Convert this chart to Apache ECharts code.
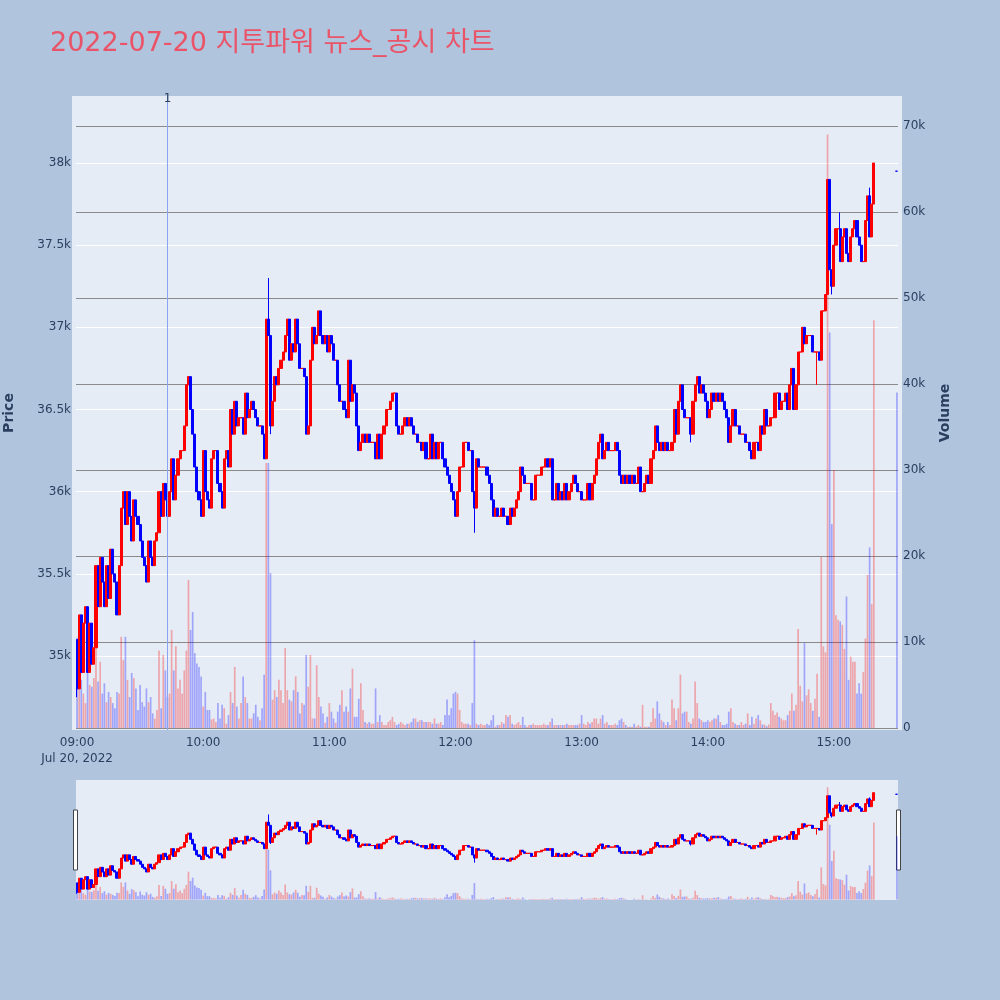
<!DOCTYPE html>
<html>
<head>
<meta charset="utf-8">
<title>2022-07-20 지투파워 뉴스_공시 차트</title>
<script src="https://cdn.jsdelivr.net/npm/echarts@6/dist/echarts.min.js"></script>
<style>
  html, body { margin: 0; padding: 0; background: #b0c4de; }
  #chart { width: 1000px; height: 1000px; }
</style>
</head>
<body>
<div id="chart"></div>
<script>
// 1분봉 종가, 09:00 부터 (인덱스 = 09:00 이후 분)
const closes = [
  34800, 35250, 34900, 35200, 35300, 34900, 35200, 34950, 35050, 35550,
  35300, 35600, 35450, 35300, 35550, 35350, 35650, 35500, 35450, 35250,
  35550, 35900, 36000, 35800, 36000, 35850, 35700, 35950, 35850, 35800,
  35700, 35600, 35550, 35450, 35700, 35600, 35550, 35700, 35750, 36000,
  35850, 36050, 35950, 35850, 36000, 36200, 35950, 36100, 36200, 36250,
  36250, 36400, 36650, 36700, 36500, 36350, 36150, 36000, 35950, 35850,
  36250, 36000, 35950, 35900, 36200, 36250, 36250, 36050, 36000, 35900,
  36200, 36250, 36150, 36500, 36350, 36550, 36400, 36450, 36450, 36350,
  36600, 36450, 36500, 36550, 36500, 36450, 36400, 36400, 36350, 36200,
  37050, 36950, 36400, 36550, 36700, 36650, 36750, 36800, 36850, 36950,
  37050, 36800, 36900, 36850, 37050, 36900, 36750, 36750, 36700, 36350,
  36400, 36800, 37000, 36900, 36950, 37100, 36950, 36900, 36950, 36850,
  36950, 36900, 36800, 36800, 36650, 36550, 36550, 36500, 36450, 36800,
  36550, 36650, 36600, 36400, 36250, 36300, 36350, 36300, 36350, 36300,
  36300, 36300, 36200, 36350, 36200, 36350, 36400, 36500, 36500, 36550,
  36600, 36600, 36400, 36350, 36350, 36400, 36450, 36400, 36450, 36400,
  36350, 36350, 36300, 36300, 36250, 36300, 36200, 36200, 36350, 36200,
  36300, 36200, 36300, 36300, 36200, 36150, 36100, 36050, 36000, 35950,
  35850, 36000, 36150, 36150, 36300, 36300, 36250, 36250, 36000, 35900,
  36200, 36150, 36150, 36150, 36150, 36100, 36050, 35950, 35850, 35900,
  35850, 35850, 35900, 35850, 35850, 35800, 35900, 35850, 35900, 35950,
  36000, 36150, 36100, 36050, 36050, 36050, 35950, 35950, 36100, 36100,
  36100, 36150, 36150, 36200, 36150, 36200, 35950, 35950, 36050, 35950,
  36000, 35950, 36050, 35950, 36000, 36050, 36100, 36050, 36000, 36000,
  35950, 35950, 35950, 36050, 35950, 36050, 36100, 36200, 36300, 36350,
  36200, 36250, 36300, 36250, 36250, 36250, 36300, 36250, 36100, 36050,
  36100, 36050, 36100, 36050, 36100, 36050, 36050, 36150, 36000, 36000,
  36050, 36100, 36050, 36200, 36250, 36400, 36300, 36250, 36300, 36250,
  36300, 36250, 36250, 36300, 36500, 36350, 36550, 36650, 36500, 36450,
  36450, 36450, 36350, 36550, 36650, 36700, 36600, 36650, 36600, 36550,
  36450, 36500, 36600, 36550, 36600, 36550, 36600, 36550, 36500, 36450,
  36300, 36400, 36500, 36400, 36400, 36350, 36350, 36350, 36300, 36300,
  36250, 36200, 36300, 36300, 36250, 36400, 36350, 36500, 36400, 36400,
  36450, 36450, 36600, 36600, 36500, 36550, 36550, 36600, 36500, 36650,
  36750, 36500, 36650, 36850, 36850, 37000, 36900, 36950, 36950, 36950,
  36850, 36850, 36850, 36800, 37100, 37100, 37200, 37900, 37350, 37250,
  37500, 37600, 37600, 37400, 37550, 37600, 37450, 37400, 37550, 37600,
  37650, 37550, 37500, 37400, 37400, 37650, 37800, 37550, 37750, 38000
]
const firstOpen = 35100

// 몸통 밖으로 나온 꼬리 [분, 고가, 저가]
const wicks = [
  [0, null, 34750], [91, 37300, null], [92, null, 36350], [189, null, 35750],
  [292, null, 36300], [352, null, 36650], [359, null, 37200], [363, 37700, null],
  [377, 37850, null]
]

// 1분 거래량 (천 주)
const volumesK = [
  10.5, 6.4, 5.6, 4, 2.9, 7.5, 5, 4.8, 5.8, 9.7,
  5.4, 7.7, 4, 5.2, 3, 4.2, 3.6, 2.9, 2.3, 4.2,
  4, 10.6, 7.9, 10.6, 5.6, 3.6, 6.4, 5.8, 4.6, 2.1,
  5, 3, 2.5, 4.6, 3, 3.6, 1.7, 1.1, 2.1, 9,
  2.3, 8.5, 6.7, 3.6, 4, 11.4, 6.7, 9.5, 4.6, 5.6,
  4, 6.7, 9, 17.2, 11.4, 13.5, 8.7, 7.5, 7.1, 6,
  2.5, 4.2, 2.1, 2.1, 1, 1.1, 0.7, 2.9, 1.1, 2.7,
  2.3, 0.5, 1.5, 4.2, 2.9, 7.1, 2.5, 1.1, 2.9, 6,
  3.6, 2.9, 1.1, 1.1, 1.7, 2.7, 1.3, 0.9, 2.3, 6.2,
  30.8, 30.8, 18, 3.3, 4.4, 3.6, 5.6, 4.4, 2.9, 9.3,
  4.4, 3.3, 3.1, 4.4, 6, 4.2, 1.7, 2.9, 2.7, 8.5,
  4.8, 8.5, 1.1, 1.1, 7.3, 3.6, 2.5, 1.7, 0.6, 1.3,
  2.9, 1.9, 1.1, 0.6, 1.9, 2.7, 4.4, 1.9, 2.5, 1.9,
  4.6, 6.9, 1.3, 1.3, 3.4, 5.2, 2.1, 0.7, 0.5, 0.7,
  0.5, 0.5, 4.6, 0.7, 1.5, 0.7, 0.35, 0.35, 0.7, 0.9,
  1.3, 0.7, 0.35, 0.5, 0.7, 0.5, 0.35, 0.5, 0.5, 0.7,
  1.1, 1.1, 0.7, 0.9, 0.9, 0.7, 0.7, 0.7, 0.7, 0.5,
  1.1, 0.5, 0.5, 0.7, 0.35, 1.5, 3.3, 1.5, 2.3, 4,
  4.2, 4, 2.1, 0.7, 0.5, 0.5, 0.5, 0.35, 2.9, 10.2,
  0.5, 0.35, 0.5, 0.35, 0.35, 0.5, 0.35, 0.9, 1.5, 0.15,
  0.35, 0.35, 0.7, 0.5, 1.5, 1.3, 1.5, 0.5, 0.35, 0.5,
  0.7, 0.35, 1.3, 0.35, 0.15, 0.35, 0.35, 0.5, 0.35, 0.35,
  0.35, 0.35, 0.5, 0.35, 0.35, 0.7, 1.1, 0.35, 0.35, 0.35,
  0.35, 0.35, 0.35, 0.5, 0.35, 0.35, 0.35, 0.35, 0.35, 0.5,
  1.5, 0.5, 0.35, 0.7, 0.5, 0.7, 1.1, 1.1, 0.5, 1.1,
  1.5, 0.5, 0.7, 0.35, 0.35, 0.35, 0.5, 0.35, 0.9, 1.1,
  0.7, 0.35, 0.15, 0.15, 0.15, 0.5, 0.15, 0.35, 0.15, 2.7,
  0.15, 0.15, 0.15, 0.7, 2.3, 1.1, 3.1, 1.7, 0.9, 0.7,
  0.35, 0.7, 0.35, 3.3, 2.3, 0.9, 2.3, 6.2, 1.7, 1.9,
  1.9, 0.7, 0.5, 1.1, 5.4, 2.9, 1.1, 0.9, 0.7, 0.7,
  0.9, 0.7, 0.9, 1.1, 1.1, 1.5, 0.7, 0.35, 0.35, 0.5,
  1.9, 2.3, 0.7, 0.5, 0.35, 0.35, 0.7, 0.35, 0.5, 1.7,
  0.35, 1.3, 0.5, 1.1, 1.5, 0.9, 0.4, 0.4, 0.2, 0.4,
  2.9, 2, 1.5, 1.8, 1.3, 1.1, 0.9, 0.9, 1.5, 2,
  4, 2, 2.7, 11.5, 4.9, 3.1, 9.9, 3.8, 4.5, 2.9,
  2, 3.4, 6.3, 1.3, 19.9, 9.5, 8.8, 69, 46, 23.7,
  30, 13.1, 12.6, 12.4, 12, 9.2, 15.3, 5.6, 8.3, 7.7,
  7.7, 4, 5.2, 4, 6.5, 10.4, 17.8, 21, 14.4, 47.4
]

// 15:30 동시호가
const auctionMinute = 390
const auctionPrice = 37950
const auctionVolumeK = 39

// 뉴스/공시 시점 (09:00 이후 분)
const newsMinutes = [43.4]
const newsLabels = ['1']

const priceTicks = [35000, 35500, 36000, 36500, 37000, 37500, 38000]
const volumeTicks = [0, 10, 20, 30, 40, 50, 60, 70]

const UP = '#ff0000'
const DOWN = '#0000ff'
const UP_VOL = 'rgba(255,0,0,0.3)'
const DOWN_VOL = 'rgba(0,0,255,0.3)'
const TEXT = '#2a3f5f'
const FONT = '"DejaVu Sans", "Noto Sans CJK KR", sans-serif'
const PLOT_BG = '#e5ecf6'

// 축 범위
const priceRange = [34549.7, 38407.7]
const volumeRange = [-0.233, 73.49]

const pad = (n) => String(n).padStart(2, '0')
const minuteLabel = (m) => pad(9 + Math.floor(m / 60)) + ':' + pad(m % 60)

// 09:00 ~ 15:30 분 단위 카테고리
const minutes = []
for (let m = 0; m <= auctionMinute; m++) minutes.push(minuteLabel(m))

// 캔들: 시가 = 직전 종가
const candleItems = minutes.map(() => ['-', '-', '-', '-'])
const volumeItems = minutes.map(() => '-')
closes.forEach((c, i) => {
  const o = i === 0 ? firstOpen : closes[i - 1]
  let hi = Math.max(o, c)
  let lo = Math.min(o, c)
  const w = wicks.find(w => w[0] === i)
  if (w) {
    if (w[1] != null) hi = Math.max(hi, w[1])
    if (w[2] != null) lo = Math.min(lo, w[2])
  }
  candleItems[i] = [o, c, lo, hi]
  volumeItems[i] = { value: volumesK[i], itemStyle: { color: c >= o ? UP_VOL : DOWN_VOL } }
})
candleItems[auctionMinute] = {
  value: [auctionPrice, auctionPrice, auctionPrice, auctionPrice],
  itemStyle: { color: DOWN, color0: DOWN, borderColor: DOWN, borderColor0: DOWN }
}
volumeItems[auctionMinute] = { value: auctionVolumeK, itemStyle: { color: DOWN_VOL } }

const candleStyle = { color: UP, color0: DOWN, borderColor: UP, borderColor0: DOWN, borderWidth: 1 }
const labelEveryHour = (idx) => idx % 60 === 0 && idx < auctionMinute

const chart = echarts.init(document.getElementById('chart'))
chart.setOption({
  animation: false,
  backgroundColor: '#b0c4de',
  textStyle: { fontFamily: FONT },
  title: {
    text: '2022-07-20 지투파워 뉴스_공시 차트',
    left: 50,
    top: 30,
    padding: 0,
    textStyle: { color: '#ea5468', fontSize: 27, fontWeight: 'normal', fontFamily: FONT }
  },
  graphic: [
    // 플롯 배경 (격자보다 조금 넓음)
    { type: 'rect', z: -10, silent: true, shape: { x: 72, y: 96, width: 830, height: 634 }, style: { fill: PLOT_BG } },
    // 레인지 슬라이더 손잡이
    { type: 'rect', silent: true, shape: { x: 73.5, y: 810, width: 4, height: 60 }, style: { fill: '#fff', stroke: '#444', lineWidth: 1 } },
    { type: 'rect', silent: true, shape: { x: 896.5, y: 810, width: 4, height: 60 }, style: { fill: '#fff', stroke: '#444', lineWidth: 1 } }
  ],
  grid: [
    { left: 76, top: 96, width: 822, height: 634, show: false, containLabel: false, outerBoundsMode: 'none' },
    { left: 76, top: 780, width: 822, height: 120, show: true, backgroundColor: PLOT_BG, borderWidth: 0, containLabel: false, outerBoundsMode: 'none' }
  ],
  xAxis: [
    {
      type: 'category', gridIndex: 0, data: minutes, boundaryGap: true,
      axisLine: { show: false },
      axisTick: { show: false },
      splitLine: { show: false },
      axisLabel: {
        interval: labelEveryHour,
        color: TEXT, fontSize: 12, fontFamily: FONT, lineHeight: 16, margin: 5,
        formatter: (v, idx) => idx === 0 ? v + '\nJul 20, 2022' : v
      }
    },
    { type: 'category', gridIndex: 1, data: minutes, boundaryGap: true, show: false }
  ],
  yAxis: [
    {
      type: 'value', gridIndex: 0, position: 'left', min: priceRange[0], max: priceRange[1],
      name: 'Price', nameLocation: 'middle', nameGap: 60, nameRotate: 90,
      nameTextStyle: { color: TEXT, fontSize: 14, fontWeight: 'bold', fontFamily: FONT },
      axisLine: { show: false },
      axisTick: { show: false, customValues: priceTicks },
      axisLabel: { customValues: priceTicks, color: TEXT, fontSize: 12, fontFamily: FONT, margin: 5, formatter: (v) => (v / 1000) + 'k' },
      splitLine: { show: true, lineStyle: { color: '#ffffff', width: 1 } }
    },
    {
      type: 'value', gridIndex: 0, position: 'right', min: volumeRange[0], max: volumeRange[1],
      name: 'Volume', nameLocation: 'middle', nameGap: 40, nameRotate: 90,
      nameTextStyle: { color: TEXT, fontSize: 14, fontWeight: 'bold', fontFamily: FONT },
      axisLine: { show: false },
      axisTick: { show: false, customValues: volumeTicks },
      axisLabel: { customValues: volumeTicks, color: TEXT, fontSize: 12, fontFamily: FONT, margin: 5, formatter: (v) => v === 0 ? '0' : v + 'k' },
      splitLine: { show: true, lineStyle: { color: '#8a8a8a', width: 1 } }
    },
    { type: 'value', gridIndex: 1, min: priceRange[0], max: priceRange[1], show: false, splitLine: { show: false } },
    { type: 'value', gridIndex: 1, min: volumeRange[0], max: volumeRange[1], show: false, splitLine: { show: false } }
  ],
  series: [
    {
      type: 'bar', xAxisIndex: 0, yAxisIndex: 1, data: volumeItems, barWidth: 1.7, z: 1, silent: true,
      markLine: {
        silent: true, symbol: 'none',
        lineStyle: { color: '#8aa2f2', width: 1, type: 'solid', opacity: 1 },
        label: { show: true, position: 'end', distance: -9, formatter: '{b}', color: TEXT, fontSize: 12, fontFamily: FONT },
        data: newsMinutes.map((m, i) => ({ xAxis: m, name: newsLabels[i] }))
      }
    },
    {
      type: 'candlestick', xAxisIndex: 0, yAxisIndex: 0, data: candleItems,
      barWidth: 2.6, z: 2, silent: true, itemStyle: candleStyle
    },
    { type: 'bar', xAxisIndex: 1, yAxisIndex: 3, data: volumeItems, barWidth: 1.7, z: 1, silent: true },
    {
      type: 'candlestick', xAxisIndex: 1, yAxisIndex: 2, data: candleItems,
      barWidth: 2.6, z: 2, silent: true, itemStyle: candleStyle
    }
  ]
})
</script>
</body>
</html>
